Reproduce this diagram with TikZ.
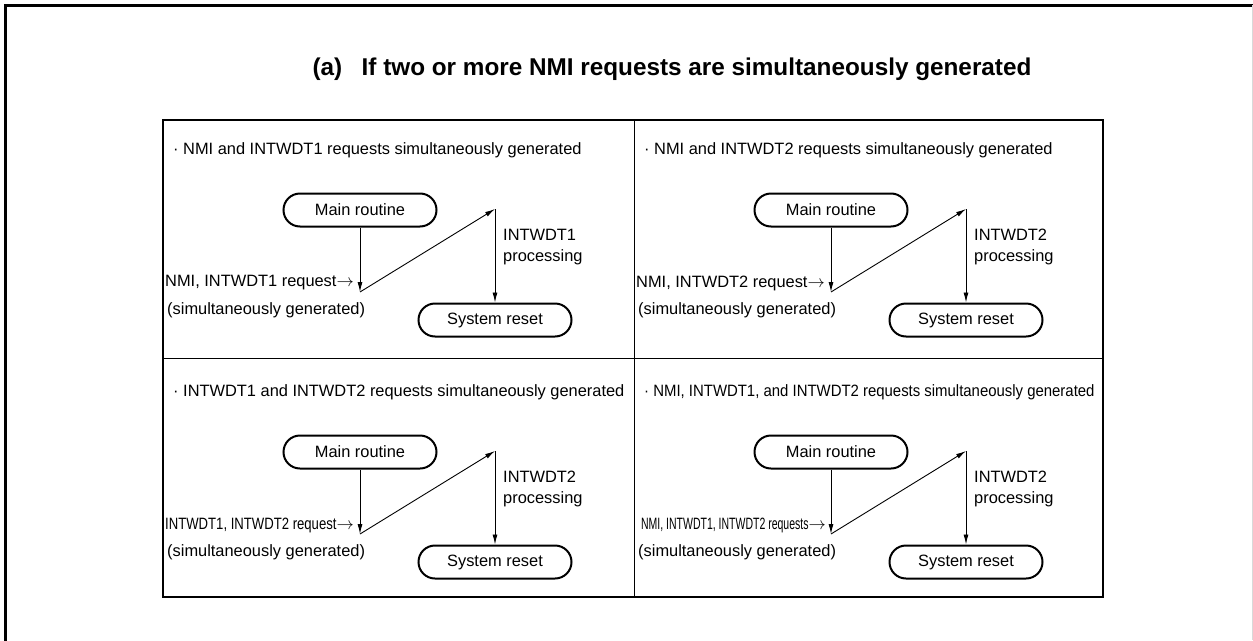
\documentclass[tikz,border=0pt]{standalone}
\usepackage{fontspec}
\setmainfont{Liberation Sans}
\newfontfamily\narrowfont[FakeStretch=0.8]{Liberation Sans}
\newfontfamily\narrowerfont[FakeStretch=0.64]{Liberation Sans}
\newfontfamily\slimfont[FakeStretch=0.91]{Liberation Sans}
\usetikzlibrary{arrows.meta,positioning}

\begin{document}
\begin{tikzpicture}[x=1pt, y=-1pt,
  rutina/.style={draw, line width=2pt, rounded corners=16.5pt, minimum width=153pt, minimum height=33pt, inner sep=0pt, font=\fontsize{16.4}{21}\selectfont},
  texto/.style={inner sep=0pt, font=\fontsize{16.4}{21}\selectfont},
  flecha/.style={-{Latex[length=10pt,width=5pt]}, line width=0.9pt}]
  \useasboundingbox (0,0) rectangle (1253,640);

  % Marco
  \draw[line width=3pt] (5,660) -- (5,5) -- (1260,5);
  \draw[black!15, line width=1pt] (1252,5) -- (1252,640);
  \draw[line width=2.5pt] (163,120) rectangle (1103,597);
  \draw[line width=1pt] (634,120) -- (634,597);
  \draw[line width=1pt] (163,358) -- (1103,358);

  % Titulo
  \node[font=\fontsize{24.3}{29}\selectfont\bfseries] (titulo) at (672,69) {(a)\hspace{0.8em}If two or more NMI requests are simultaneously generated};

  % Panel 1
  \node[texto, anchor=west] (enc1) at (173,150) {· NMI and INTWDT1 requests simultaneously generated};
  \node[rutina] (mr1) at (360,210) {Main routine};
  \node[rutina] (sr1) at (495,320) {System reset};
  \coordinate (q1) at (360,292);
  \coordinate (t1) at (495,209);
  \node[texto, anchor=east] (req1) at (354,283) {NMI, INTWDT1 request$\rightarrow$};
  \node[texto, anchor=west] (sim1) at (167,310) {(simultaneously generated)};
  \node[texto, anchor=west, align=left] (pro1) at (503,247) {INTWDT1\\processing};
  \draw[flecha] (mr1) -- (q1);
  \draw[flecha] (q1) -- (t1);
  \draw[flecha] (t1) -- (sr1);

  % Panel 2
  \begin{scope}[shift={(471,0)}]
    \node[texto, anchor=west] (enc2) at (173,150) {· NMI and INTWDT2 requests simultaneously generated};
    \node[rutina] (mr2) at (360,210) {Main routine};
    \node[rutina] (sr2) at (495,320) {System reset};
    \coordinate (q2) at (360,292);
    \coordinate (t2) at (495,209);
    \node[texto, anchor=east] (req2) at (354,283) {NMI, INTWDT2 request$\rightarrow$};
    \node[texto, anchor=west] (sim2) at (167,310) {(simultaneously generated)};
    \node[texto, anchor=west, align=left] (pro2) at (503,247) {INTWDT2\\processing};
    \draw[flecha] (mr2) -- (q2);
    \draw[flecha] (q2) -- (t2);
    \draw[flecha] (t2) -- (sr2);
  \end{scope}

  % Panel 3
  \begin{scope}[shift={(0,242)}]
    \node[texto, anchor=west] (enc3) at (173,150) {· INTWDT1 and INTWDT2 requests simultaneously generated};
    \node[rutina] (mr3) at (360,210) {Main routine};
    \node[rutina] (sr3) at (495,320) {System reset};
    \coordinate (q3) at (360,292);
    \coordinate (t3) at (495,209);
    \node[texto, anchor=east, font=\fontsize{16.4}{21}\narrowfont] (req3) at (354,283) {INTWDT1, INTWDT2 request$\rightarrow$};
    \node[texto, anchor=west] (sim3) at (167,310) {(simultaneously generated)};
    \node[texto, anchor=west, align=left] (pro3) at (503,247) {INTWDT2\\processing};
    \draw[flecha] (mr3) -- (q3);
    \draw[flecha] (q3) -- (t3);
    \draw[flecha] (t3) -- (sr3);
  \end{scope}

  % Panel 4
  \begin{scope}[shift={(471,242)}]
    \node[texto, anchor=west, font=\fontsize{16.4}{21}\slimfont] (enc4) at (173,150) {· NMI, INTWDT1, and INTWDT2 requests simultaneously generated};
    \node[rutina] (mr4) at (360,210) {Main routine};
    \node[rutina] (sr4) at (495,320) {System reset};
    \coordinate (q4) at (360,292);
    \coordinate (t4) at (495,209);
    \node[texto, anchor=east, font=\fontsize{16.4}{21}\narrowerfont] (req4) at (355,283) {NMI, INTWDT1, INTWDT2 requests$\rightarrow$};
    \node[texto, anchor=west] (sim4) at (167,310) {(simultaneously generated)};
    \node[texto, anchor=west, align=left] (pro4) at (503,247) {INTWDT2\\processing};
    \draw[flecha] (mr4) -- (q4);
    \draw[flecha] (q4) -- (t4);
    \draw[flecha] (t4) -- (sr4);
  \end{scope}
\end{tikzpicture}
\end{document}
